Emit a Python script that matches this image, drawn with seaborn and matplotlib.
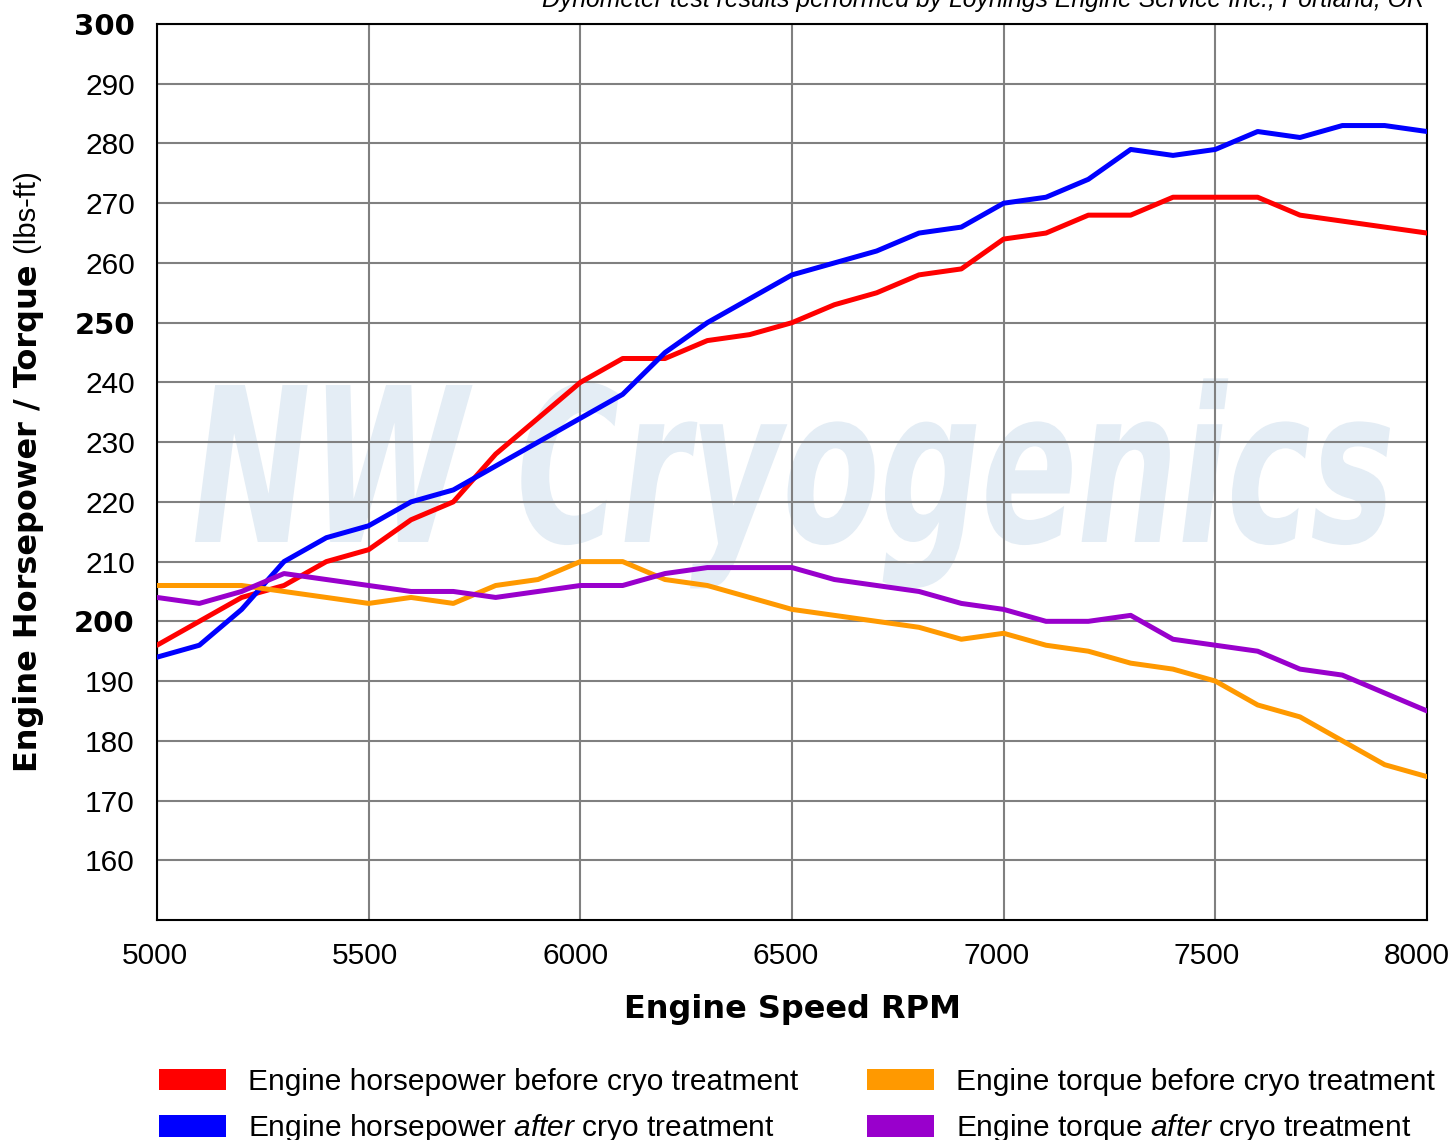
# DYNO CHART: HORSEPOWER / TORQUE BEFORE AND AFTER CRYO

import pandas as pd
import matplotlib
matplotlib.use("Agg")
import matplotlib.pyplot as plt
import seaborn as sns
from matplotlib.patches import Patch, PathPatch
from matplotlib.textpath import TextPath
from matplotlib.font_manager import FontProperties
from matplotlib.transforms import Affine2D, IdentityTransform, ScaledTranslation
from matplotlib.ticker import MultipleLocator

# DATA (every 100 rpm)

rpm = list(range(5000, 8001, 100))

hp_before = [196, 200, 204, 206, 210, 212, 217, 220, 228, 234, 240, 244, 244,
             247, 248, 250, 253, 255, 258, 259, 264, 265, 268, 268, 271, 271,
             271, 268, 267, 266, 265]
hp_after = [194, 196, 202, 210, 214, 216, 220, 222, 226, 230, 234, 238, 245,
            250, 254, 258, 260, 262, 265, 266, 270, 271, 274, 279, 278, 279,
            282, 281, 283, 283, 282]
tq_before = [206, 206, 206, 205, 204, 203, 204, 203, 206, 207, 210, 210, 207,
             206, 204, 202, 201, 200, 199, 197, 198, 196, 195, 193, 192, 190,
             186, 184, 180, 176, 174]
tq_after = [204, 203, 205, 208, 207, 206, 205, 205, 204, 205, 206, 206, 208,
            209, 209, 209, 207, 206, 205, 203, 202, 200, 200, 201, 197, 196,
            195, 192, 191, 188, 185]

series_names = ["hp_before", "hp_after", "tq_before", "tq_after"]
series_labels = [
    "Engine horsepower before cryo treatment",
    "Engine horsepower $\\it{after}$ cryo treatment",
    "Engine torque before cryo treatment",
    "Engine torque $\\it{after}$ cryo treatment",
]
series_colors = ["#ff0000", "#0000ff", "#ff9900", "#9900cc"]

yticks = list(range(160, 301, 10))
bold_yticks = [200, 250, 300]
xticks = list(range(5000, 8001, 500))

title_text = "Dynometer test results performed by Loynings Engine Service Inc., Portland, OR"
watermark = "NW Cryogenics"

# LONG FORM TABLE

df = pd.DataFrame({
    "rpm": rpm * 4,
    "value": hp_before + hp_after + tq_before + tq_after,
    "series": [n for n in series_names for _ in rpm],
})

# STYLE

sns.set_style("white")
plt.rcParams["font.family"] = ["Liberation Sans", "DejaVu Sans"]
plt.rcParams["mathtext.fontset"] = "custom"
plt.rcParams["mathtext.rm"] = "Liberation Sans"
plt.rcParams["mathtext.it"] = "Liberation Sans:italic"
plt.rcParams["text.color"] = "black"
plt.rcParams["axes.labelcolor"] = "black"
plt.rcParams["xtick.color"] = "black"
plt.rcParams["ytick.color"] = "black"

W, H = 1452, 1140
fig = plt.figure(figsize=(W / 100, H / 100), dpi=100)
ax = fig.add_axes([157 / W, 1 - 920 / H, (1427 - 157) / W, (920 - 24) / H])

# PLOT

sns.lineplot(
    data=df, x="rpm", y="value", hue="series",
    hue_order=series_names, palette=series_colors,
    linewidth=3.6, legend=False, ax=ax, zorder=3,
)

ax.set_xlim(5000, 8000)
ax.set_ylim(150, 300)
ax.set_xticks(xticks)
ax.xaxis.set_minor_locator(MultipleLocator(100))
ax.set_yticks(yticks)

ax.grid(True, which="major", color="#808080", linewidth=1.5)
ax.set_axisbelow(True)
for s in ax.spines.values():
    s.set_color("black")
    s.set_linewidth(1.5)

ax.tick_params(axis="x", which="major", length=0, pad=15.5, labelsize=21.5)
ax.tick_params(axis="x", which="minor", direction="in", length=16, width=1.2,
               color="black")
ax.tick_params(axis="y", which="major", length=0, pad=16, labelsize=21.5)

ax.set_xticklabels([str(t) for t in xticks])
ax.set_yticklabels([str(t) for t in yticks])
for lab, t in zip(ax.get_yticklabels(), yticks):
    if t in bold_yticks:
        lab.set_fontfamily("DejaVu Sans")
        lab.set_fontweight("bold")
        lab.set_fontsize(21)

# the source's rpm labels drift a little left of their gridlines
for i, lab in enumerate(ax.get_xticklabels()):
    dx = -(2 + 8 * i / (len(xticks) - 1)) / 100
    lab.set_transform(lab.get_transform() + ScaledTranslation(dx, 0, fig.dpi_scale_trans))

ax.set_xlabel("Engine Speed RPM", fontfamily="DejaVu Sans", fontweight="bold",
              fontsize=23, labelpad=17.5)
ax.set_ylabel("")

# Y LABEL IN TWO WEIGHTS

ylab_bold = fig.text(28 / W, 1 - 772 / H, "Engine Horsepower / Torque",
                     rotation=90, rotation_mode="anchor", ha="left", va="center",
                     fontfamily="DejaVu Sans", fontweight="bold", fontsize=23)
fig.canvas.draw()
bb = ylab_bold.get_window_extent()
fig.text(28 / W, (bb.y1 + 2) / H, " (lbs-ft)", rotation=90, rotation_mode="anchor",
         ha="left", va="center", fontsize=21)

# WATERMARK

tp = TextPath((0, 0), watermark, size=100,
              prop=FontProperties(family="DejaVu Sans", weight="bold", style="italic"))
ext = tp.get_extents()
sx = (1390 - 195) / ext.width
sy = (542 - 385) / 72.9
tr = Affine2D().translate(-ext.x0, 0).scale(sx, sy).translate(195, H - 542)
ax.add_patch(PathPatch(tr.transform_path(tp), facecolor="#e4edf5", edgecolor="none",
                       transform=IdentityTransform(), zorder=0.1))

# TITLE (cut at top edge like the source)

fig.text(1425 / W, 1 - 7 / H, title_text, ha="right", va="baseline",
         style="italic", fontsize=17.8)

# LEGEND

handles = [Patch(facecolor=c, edgecolor="none") for c in series_colors]
fig.legend(handles, series_labels, ncol=2, loc="upper left",
           bbox_to_anchor=(144 / W, 1 - 1053 / H), frameon=False,
           borderpad=0, fontsize=21.5, handlelength=2.25, handleheight=0.74,
           handletextpad=0.73, columnspacing=2.3, labelspacing=0.55)

fig.savefig("out.png", dpi=100)
